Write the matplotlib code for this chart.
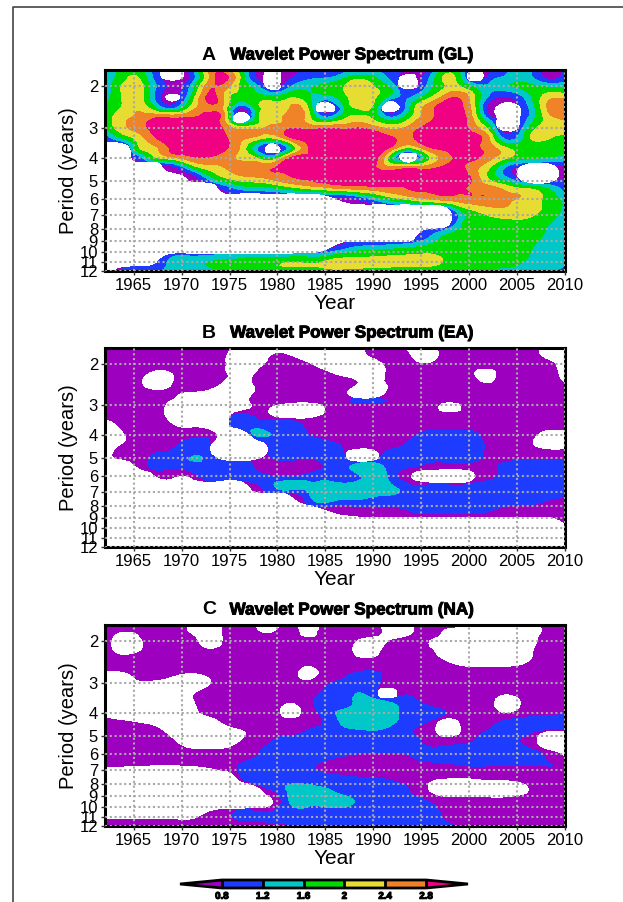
import numpy as np
import matplotlib
matplotlib.use("Agg")
import matplotlib.pyplot as plt
import matplotlib.tri as mtri
import matplotlib.patheffects as pe
from matplotlib.colors import ListedColormap, BoundaryNorm
from matplotlib.cm import ScalarMappable
from matplotlib.lines import Line2D

plt.rcParams['font.family'] = ['Liberation Sans', 'DejaVu Sans']

# Data: power on a coarse year / period grid
years_a = [1962, 1964, 1965.5, 1967, 1969, 1971, 1973, 1974.5, 1976.2, 1978, 1979.3, 1981, 1983, 1985,
           1987, 1988.5, 1990, 1991.8, 1993.6, 1995.5, 1997.5, 1999, 2000.7, 2002.2, 2003.7, 2006, 2008.5, 2010]
periods_a = [1.7, 1.85, 2, 2.2, 2.45, 2.7, 3, 3.3, 3.65, 4, 4.4, 4.9, 5.4, 6, 6.7, 7.5, 8.5, 9.5, 10.7, 12]
power_a = [
    [1.0, 1.8, 1.7, 1.1, .3, 1.0, 2.5, 2.5, 1.7, .6, .2, .6, 1.0, .3, 1.0, 1.0, 1.0, 1.3, .6, .3, 1.7, 1.5, .3, .6, 1.0, 1.4, .3, 1.0],
    [1.3, 1.9, 2.0, 1.2, .3, .9, 2.5, 2.9, 1.9, .7, .2, .7, 1.1, 1.2, 1.6, 1.9, 1.7, 1.1, .3, 1.0, 2.1, 1.7, .3, 1.0, 1.3, 1.4, .7, 1.1],
    [1.3, 2.1, 2.2, 1.4, .7, 1.3, 2.7, 2.6, 1.9, 1.2, .3, 1.0, 1.5, 1.7, 2.0, 2.3, 2.0, 1.5, .3, 1.2, 2.0, 2.0, 1.4, 1.3, 1.5, 1.7, 1.5, 1.4],
    [1.4, 2.1, 2.2, 1.3, .36, 1.6, 2.9, 2.3, 1.8, 1.7, 1.6, 1.8, 1.7, 1.5, 1.9, 2.3, 2.1, 1.5, 1.1, 1.7, 2.5, 2.7, 1.9, 1.1, .8, 1.4, 2.2, 2.2],
    [1.6, 2.1, 2.3, 1.7, 1.0, 2.1, 2.7, 2.2, .9, 1.9, 2.1, 2.3, 2.1, .3, 1.6, 2.1, 1.9, .3, 1.4, 2.5, 3.0, 2.9, 1.9, .6, .2, 1.1, 2.6, 2.7],
    [1.7, 2.3, 2.5, 2.7, 2.7, 2.8, 2.9, 2.4, .3, 1.9, 2.3, 2.5, 2.3, 1.2, 1.9, 2.05, 1.9, 1.2, 1.8, 2.6, 3.0, 3.0, 2.1, .9, .2, 1.1, 2.3, 2.5],
    [1.6, 2.3, 2.6, 2.9, 3.0, 3.0, 3.0, 2.7, 2.2, 2.3, 2.5, 2.7, 2.7, 2.75, 2.7, 2.8, 2.6, 2.3, 2.5, 2.9, 3.0, 3.0, 2.5, 1.7, .3, 1.5, 2.2, 2.2],
    [.9, 1.7, 2.2, 2.7, 3.0, 3.0, 3.0, 2.85, 2.5, 2.2, 2.0, 2.6, 2.9, 3.0, 3.0, 3.0, 3.0, 2.85, 2.7, 3.0, 3.0, 3.0, 2.9, 2.3, 1.1, 1.8, 2.0, 1.9],
    [.2, .3, 1.9, 2.3, 2.9, 3.0, 3.0, 2.85, 2.3, 1.1, .3, 1.2, 2.7, 3.0, 3.0, 3.0, 3.0, 2.7, 1.9, 2.6, 2.9, 3.0, 2.85, 2.6, 2.1, 1.8, 1.8, 1.7],
    [.2, .2, 1.0, 1.8, 2.3, 2.7, 2.75, 2.6, 2.3, 1.9, 1.5, 2.6, 2.9, 3.0, 3.0, 3.0, 3.0, 1.7, .3, 1.7, 2.6, 2.9, 2.85, 2.5, 2.1, 1.7, 1.55, 1.4],
    [.2, .2, .2, .2, .6, 1.6, 2.2, 2.4, 2.6, 2.7, 2.75, 2.9, 3.0, 3.0, 3.0, 3.0, 2.85, 2.5, 2.6, 2.6, 2.9, 2.9, 2.5, 2.0, 1.2, .3, .3, .7],
    [.2, .2, .2, .2, .2, .5, 1.4, 1.9, 2.2, 2.3, 2.45, 2.7, 2.85, 3.0, 3.0, 3.0, 3.0, 3.0, 3.0, 3.0, 3.0, 3.0, 2.6, 1.9, 1.4, .3, .3, .8],
    [.2, .2, .2, .2, .2, .2, .2, .9, 1.3, 1.4, 1.5, 1.7, 2.0, 2.2, 2.4, 2.5, 2.6, 2.7, 2.8, 2.85, 2.85, 2.85, 2.7, 2.6, 2.3, 2.0, 1.5, 1.0],
    [.2, .2, .2, .2, .2, .2, .2, .2, .2, .2, .2, .2, .2, .3, .5, .8, 1.2, 1.7, 2.0, 2.3, 2.5, 2.6, 2.7, 2.7, 2.5, 2.3, 1.8, 1.5],
    [.2, .2, .2, .2, .2, .2, .2, .2, .2, .2, .2, .2, .2, .2, .2, .2, .2, .2, .2, .2, .3, 1.5, 2.0, 2.2, 2.3, 2.2, 1.8, 1.5],
    [.2, .2, .2, .2, .2, .2, .2, .2, .2, .2, .2, .2, .2, .2, .2, .2, .2, .2, .2, .2, .3, 1.4, 1.9, 1.9, 1.9, 1.9, 1.6, 1.4],
    [.2, .2, .2, .2, .2, .2, .2, .2, .2, .2, .2, .2, .2, .2, .2, .2, .2, .2, .2, 1.0, 1.6, 1.8, 1.9, 1.9, 1.9, 1.8, 1.5, 1.4],
    [.2, .2, .2, .2, .2, .2, .2, .2, .2, .2, .2, .2, .25, .32, 1.0, 1.25, 1.3, 1.4, 1.5, 1.7, 1.85, 1.9, 1.9, 1.9, 1.9, 1.7, 1.4, 1.4],
    [.2, .2, .2, .3, 1.3, 1.4, 1.5, 1.55, 1.65, 1.75, 1.75, 1.8, 1.8, 1.88, 2.08, 2.08, 2.08, 2.08, 2.08, 2.08, 1.98, 1.9, 1.9, 1.8, 1.8, 1.6, 1.4, 1.4],
    [.2, .9, 1.0, 1.1, 1.4, 1.45, 1.5, 1.55, 1.7, 1.8, 1.8, 1.8, 1.8, 1.85, 1.85, 1.85, 1.85, 1.85, 1.85, 1.9, 1.9, 1.9, 1.8, 1.6, 1.5, 1.4, 1.3, .9],
]

years_b = [1962, 1964, 1966, 1968, 1970, 1972, 1974, 1976, 1978, 1980, 1982, 1984, 1986,
           1988, 1990, 1992, 1994, 1996, 1998, 2000, 2002, 2004, 2006, 2008, 2010]
periods_b = [1.7, 1.85, 2, 2.2, 2.45, 2.74, 2.85, 3, 3.3, 3.65, 4, 4.4, 4.9, 5.4, 6, 6.7, 7.5, 8.5, 9.5, 10.7, 12]
power_b = [
    [.6, .35, .6, .6, .6, .6, .6, .2, .2, .2, .2, .2, .2, .2, .6, .6, .3, .3, .6, .6, .6, .6, .6, .3, .2],
    [.6, .6, .6, .6, .6, .6, .5, .2, .2, .5, .35, .2, .2, .2, .5, .6, .4, .3, .6, .6, .6, .6, .6, .35, .2],
    [.6, .6, .6, .6, .6, .6, .5, .2, .3, .6, .6, .35, .2, .2, .2, .6, .5, .45, .6, .6, .6, .6, .6, .55, .2],
    [.6, .6, .5, .25, .6, .6, .55, .2, .5, .6, .6, .6, .4, .25, .2, .55, .6, .6, .6, .5, .3, .6, .6, .6, .25],
    [.6, .6, .4, .25, .6, .6, .4, .2, .5, .6, .6, .6, .6, .45, .25, .5, .6, .6, .6, .6, .45, .6, .6, .6, .45],
    [.6, .6, .6, .55, .35, .25, .2, .2, .55, .6, .6, .6, .6, .35, .3, .6, .6, .6, .6, .6, .6, .6, .6, .6, .6],
    [.6, .6, .6, .5, .3, .2, .2, .2, .6, .6, .6, .6, .6, .85, .85, .75, .6, .6, .6, .6, .6, .6, .6, .6, .6],
    [.6, .6, .6, .45, .2, .2, .2, .2, .5, .4, .2, .3, .6, .6, .6, .6, .6, .6, .25, .6, .6, .6, .6, .6, .6],
    [.6, .6, .6, .45, .2, .2, .2, .85, .7, .35, .25, .35, .6, .6, .6, .6, .6, .6, .6, .6, .6, .6, .6, .6, .6],
    [.2, .5, .6, .6, .35, .35, .25, 1.0, 1.0, 1.0, .9, .6, .6, .6, .6, .6, .6, .6, .6, .6, .6, .6, .6, .6, .6],
    [.2, .4, .6, .6, .6, .75, .35, .2, 1.3, 1.05, .95, .7, .6, .6, .6, .6, .7, 1.0, 1.0, 1.0, .6, .6, .6, .25, .25],
    [.2, .45, .6, .7, .85, 1.0, .25, .2, .3, 1.05, 1.0, 1.0, .85, .7, .7, .7, .9, 1.1, 1.1, 1.1, .7, .6, .5, .25, .25],
    [.2, .6, .7, .9, 1.0, 1.18, .3, .2, .3, .95, .95, .95, 1.0, .25, .3, 1.0, 1.0, 1.0, 1.0, 1.0, .7, .6, .6, .6, .6],
    [.2, .2, .7, 1.0, 1.0, 1.1, 1.0, 1.0, .7, .6, .6, .7, 1.0, 1.25, 1.4, 1.0, .9, .7, .7, .7, .7, .9, 1.0, 1.0, 1.0],
    [.2, .2, .2, .5, .4, .85, 1.0, 1.0, .9, .85, .85, 1.0, 1.0, 1.1, 1.35, 1.0, .4, .25, .2, .3, .7, .9, 1.0, 1.0, 1.0],
    [.2, .2, .2, .2, .2, .2, .2, .2, .7, 1.25, 1.3, 1.35, 1.4, 1.4, 1.4, 1.25, .95, .9, .85, .9, 1.0, 1.0, 1.0, 1.0, 1.0],
    [.2, .2, .2, .2, .2, .2, .2, .2, .2, .2, .45, 1.35, 1.3, 1.25, 1.1, 1.05, 1.0, 1.0, 1.0, 1.0, 1.0, 1.0, 1.0, .85, .75],
    [.2, .2, .2, .2, .2, .2, .2, .2, .2, .2, .2, .3, .45, .55, .7, .7, .8, .85, .85, .85, .8, .65, .6, .6, .6],
    [.2, .2, .2, .2, .2, .2, .2, .2, .2, .2, .2, .2, .2, .2, .2, .2, .2, .2, .2, .2, .2, .2, .2, .2, .45],
    [.2, .2, .2, .2, .2, .2, .2, .2, .2, .2, .2, .2, .2, .2, .2, .2, .2, .2, .2, .2, .2, .2, .2, .2, .2],
    [.2, .2, .2, .2, .2, .2, .2, .2, .2, .2, .2, .2, .2, .2, .2, .2, .2, .2, .2, .2, .2, .2, .2, .2, .2],
]

years_c = [1962, 1964.7, 1967, 1969, 1971, 1973, 1975, 1977, 1979.5, 1981.5, 1983, 1985, 1987, 1989.5,
           1991.7, 1993.5, 1995.5, 1998, 2000, 2002, 2003.7, 2006, 2008, 2010]
periods_c = [1.7, 1.85, 2, 2.2, 2.45, 2.7, 3, 3.3, 3.65, 4, 4.4, 4.9, 5.4, 6, 6.7, 7.5, 8.5, 9.5, 10.7, 12]
power_c = [
    [.6, .6, .6, .6, .35, .2, .6, .6, .25, .6, .25, .6, .6, .6, .2, .25, .6, .6, .6, .35, .2, .2, .5, .6],
    [.6, .38, .6, .6, .4, .2, .6, .6, .45, .6, .3, .6, .6, .6, .25, .3, .6, .25, .2, .2, .2, .2, .5, .6],
    [.6, .2, .6, .6, .6, .2, .6, .6, .6, .6, .6, .6, .6, .25, .45, .6, .45, .2, .2, .2, .2, .2, .6, .6],
    [.6, .3, .6, .6, .6, .45, .6, .6, .6, .6, .6, .6, .6, .2, .6, .6, .5, .2, .2, .2, .2, .3, .6, .6],
    [.6, .6, .6, .6, .6, .6, .6, .6, .6, .6, .55, .6, .6, .5, .6, .6, .6, .4, .25, .25, .25, .4, .6, .6],
    [.4, .45, .6, .55, .45, .55, .6, .6, .6, .6, .25, .6, .7, .85, .7, .6, .6, .6, .6, .6, .6, .6, .6, .6],
    [.2, .35, .35, .25, .2, .4, .6, .6, .6, .6, .5, .7, .95, 1.05, .6, .6, .6, .6, .6, .6, .6, .6, .6, .6],
    [.2, .2, .2, .2, .35, .6, .6, .6, .6, .6, .6, .9, 1.1, 1.1, .3, .75, .6, .6, .6, .6, .45, .6, .6, .6],
    [.2, .2, .2, .2, .35, .6, .6, .6, .6, .4, .6, 1.0, 1.1, 1.4, 1.25, 1.0, .75, .6, .6, .55, .2, .55, .6, .6],
    [.25, .2, .2, .2, .3, .55, .6, .6, .6, .25, .55, 1.0, 1.3, 1.5, 1.4, 1.05, .95, .75, .65, .65, .4, .6, .65, .8],
    [.6, .45, .35, .25, .2, .25, .55, .6, .6, .55, .65, .85, 1.3, 1.45, 1.3, 1.0, .8, .3, .6, .65, .9, 1.0, 1.0, 1.0],
    [.6, .6, .55, .35, .2, .2, .2, .45, .7, .75, .85, 1.0, 1.05, 1.1, 1.05, .85, .7, .3, .7, .85, 1.0, .85, .35, .35],
    [.6, .6, .6, .5, .25, .2, .3, .6, .85, 1.0, 1.0, 1.0, 1.0, 1.0, 1.0, 1.0, .75, .75, .8, .95, 1.05, .7, .25, .2],
    [.6, .6, .6, .6, .6, .6, .6, .65, 1.0, 1.0, 1.0, .95, .85, .75, .75, .8, .95, 1.0, 1.0, 1.0, 1.0, 1.0, .75, .35],
    [.45, .42, .4, .4, .42, .5, .65, .95, 1.0, 1.0, .9, .7, .6, .6, .6, .6, .65, .7, .8, .8, .8, .8, .8, .8],
    [.2, .2, .2, .2, .2, .2, .3, .9, 1.0, 1.0, 1.0, .95, .85, .8, .75, .65, .5, .45, .45, .5, .5, .55, .6, .6],
    [.2, .2, .2, .2, .2, .2, .2, .2, .8, 1.3, 1.3, 1.25, 1.05, 1.0, .95, .85, .45, .2, .2, .2, .2, .38, .6, .6],
    [.2, .2, .2, .2, .2, .2, .2, .2, .4, 1.3, 1.35, 1.35, 1.3, 1.05, 1.0, 1.0, .85, .6, .6, .6, .6, .6, .6, .6],
    [.3, .3, .3, .3, .3, .5, .75, .9, .95, 1.05, 1.0, 1.0, 1.0, 1.0, 1.0, 1.0, 1.0, .65, .6, .6, .6, .6, .6, .6],
    [.6, .6, .6, .6, .6, .6, .6, .6, .6, .75, .85, 1.0, 1.0, 1.0, 1.0, 1.0, 1.0, .85, .6, .6, .6, .6, .6, .6],
]

cbar_levels = [0.8, 1.2, 1.6, 2, 2.4, 2.8]
cbar_labels = ['0.8', '1.2', '1.6', '2', '2.4', '2.8']
band_colors = ['#9e00c0', '#1e3cff', '#00c8c8', '#00dc00', '#e6dc32', '#f08228', '#f00082']
year_ticks = [1965, 1970, 1975, 1980, 1985, 1990, 1995, 2000, 2005, 2010]
period_ticks = [2, 3, 4, 5, 6, 7, 8, 9, 10, 11, 12]

W, H = 623, 902
fig = plt.figure(figsize=(W / 100, H / 100), dpi=100)

# thin page border, top and left only
fig.add_artist(Line2D([12.5 / W, 12.5 / W, 1], [0, 1 - 7 / H, 1 - 7 / H], color='#444444', linewidth=1.2))


def smooth_bands(ax, years, periods, power):
    xx, yy = np.meshgrid(np.array(years) / 2, np.log2(periods) / 0.15)
    tri = mtri.Triangulation(xx.ravel(), yy.ravel())
    refiner = mtri.UniformTriRefiner(tri)
    z = np.array(power)
    # cells under 0.4 are blank: drawn as a white layer over a purple base
    blank = np.minimum(z, 0.6)
    z = np.where(z < 0.4, 0.6, z)
    fine, fine_z = refiner.refine_field(z.ravel(), subdiv=3)
    _, fine_blank = refiner.refine_field(blank.ravel(), subdiv=3)
    fine = mtri.Triangulation(fine.x * 2, 2 ** (fine.y * 0.15), fine.triangles)
    ax.tricontourf(fine, fine_z, levels=[-50] + cbar_levels + [50], colors=band_colors, zorder=1)
    ax.tricontourf(fine, fine_blank, levels=[-50, 0.4], colors='white', zorder=1.5)


def panel(top, bottom, years, periods, power, title_letter, title):
    ax = fig.add_axes([105 / W, 1 - bottom / H, (565 - 105) / W, (bottom - top) / H])
    smooth_bands(ax, years, periods, power)
    ax.set_yscale('log', base=2)
    ax.set_ylim(12, 1.71)
    ax.set_xlim(1962, 2010)
    ax.minorticks_off()
    ax.set_yticks(period_ticks)
    ax.set_yticklabels([str(p) for p in period_ticks])
    ax.set_xticks(year_ticks)
    ax.minorticks_off()
    ax.tick_params(labelsize=12, length=3, width=1, pad=2, color='#333333')
    ax.tick_params(axis='x', pad=2)
    ax.grid(True, color='#a8a8a8', linestyle=(0, (1, 1.3)), linewidth=1.5, zorder=3)
    ax.set_axisbelow(False)
    for s in ax.spines.values():
        s.set_linewidth(2.2)
    ax.set_xlabel('Year', fontsize=15, labelpad=1)
    ax.set_ylabel('Period (years)', fontsize=14.5, labelpad=1)
    fig.text(209 / W, 1 - (top - 15) / H, title_letter, fontsize=14, ha='center', va='center', fontweight='bold')
    t = fig.text(352 / W, 1 - (top - 15) / H, title, fontsize=12.3, ha='center', va='center', fontweight='bold')
    t.set_path_effects([pe.withStroke(linewidth=0.7, foreground='black')])
    return ax


panel(70, 271, years_a, periods_a, power_a, 'A', 'Wavelet Power Spectrum (GL)')
panel(348, 547, years_b, periods_b, power_b, 'B', 'Wavelet Power Spectrum (EA)')
panel(625, 826, years_c, periods_c, power_c, 'C', 'Wavelet Power Spectrum (NA)')

# colour bar along the bottom
cax = fig.add_axes([180 / W, 1 - 888 / H, 288 / W, 8 / H])
cmap = ListedColormap(band_colors[1:6])
cmap.set_under(band_colors[0])
cmap.set_over(band_colors[6])
norm = BoundaryNorm(cbar_levels, cmap.N)
cb = fig.colorbar(ScalarMappable(norm=norm, cmap=cmap), cax=cax, orientation='horizontal',
                  extend='both', extendfrac=0.205, drawedges=True, ticks=cbar_levels)
cb.ax.set_xticklabels(cbar_labels)
cb.ax.tick_params(labelsize=7, length=0, pad=2)
for lab in cb.ax.get_xticklabels():
    lab.set_fontweight('bold')
    lab.set_path_effects([pe.withStroke(linewidth=0.8, foreground='black')])
cb.outline.set_linewidth(2)
cb.dividers.set_linewidth(2)
cb.dividers.set_color('black')

fig.savefig('out.png', dpi=100)
